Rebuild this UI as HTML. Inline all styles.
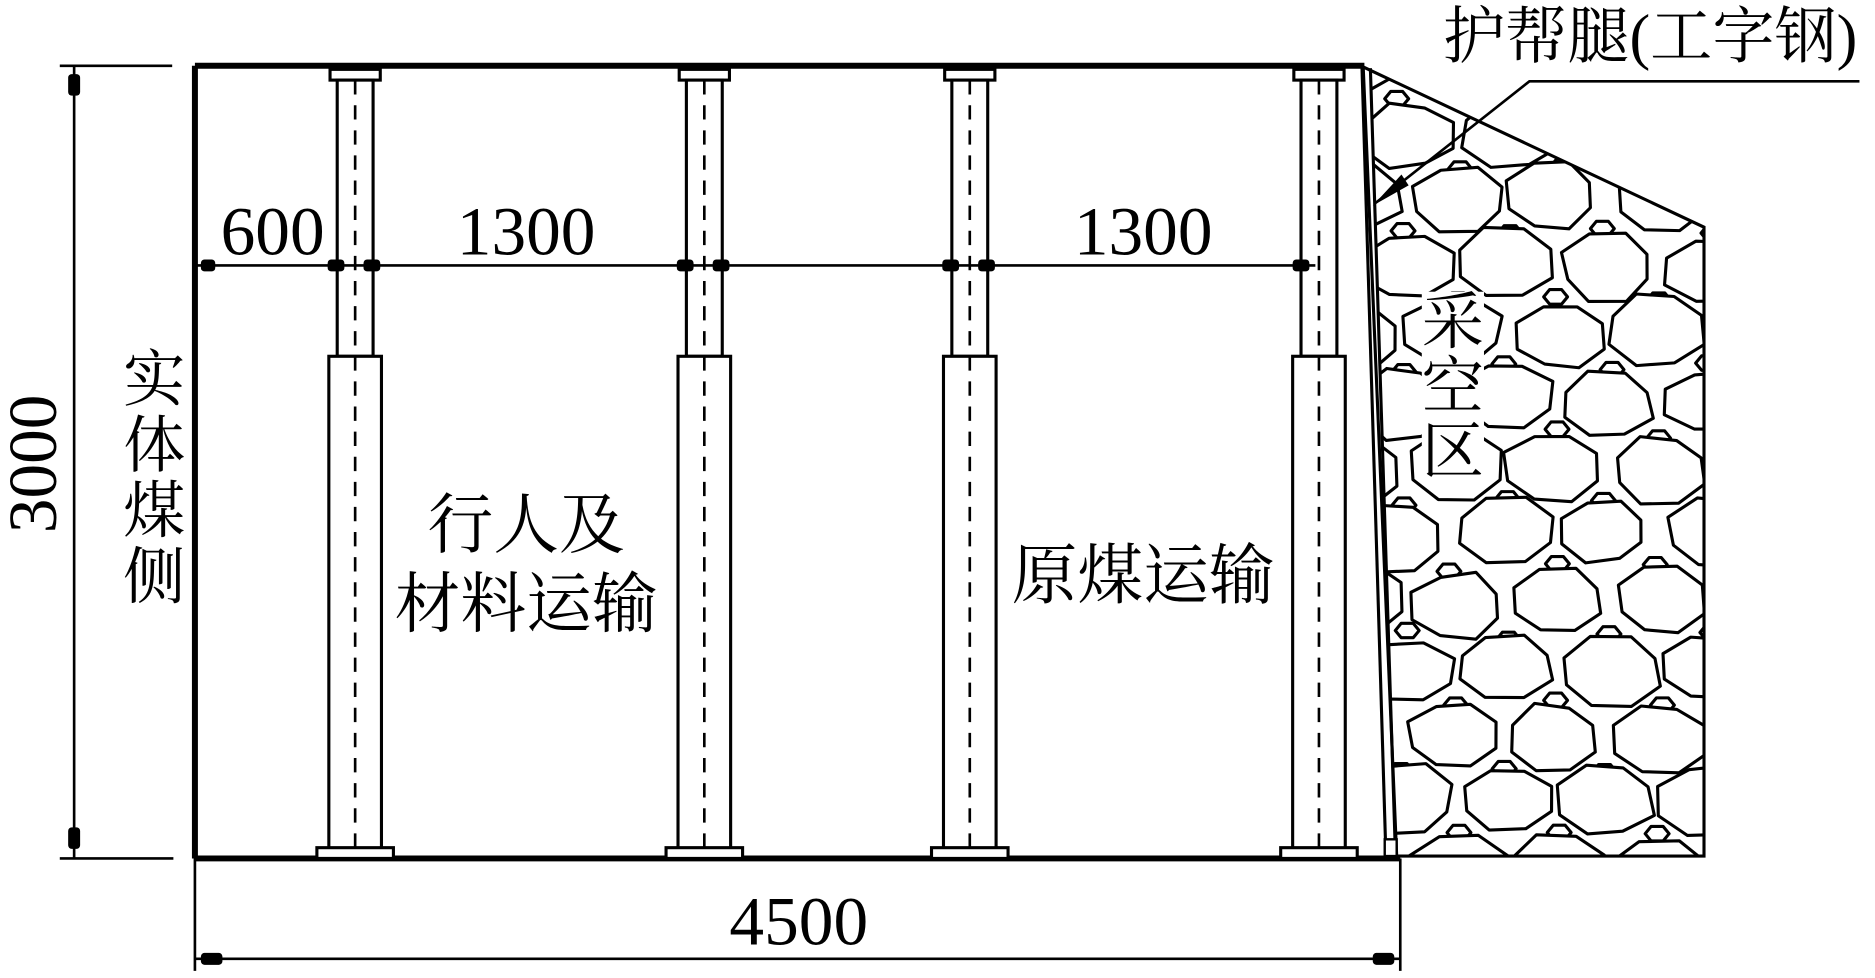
<!DOCTYPE html>
<html><head><meta charset="utf-8"><style>
html,body{margin:0;padding:0;background:#fff;}
svg{display:block;}
text{font-family:"Liberation Serif","Noto Serif CJK SC","Noto Sans CJK SC",serif;fill:#000;}
</style></head><body>
<svg id="s" width="1875" height="978" viewBox="0 0 1568 818" preserveAspectRatio="none" xmlns="http://www.w3.org/2000/svg">
<defs>
<clipPath id="gob"><polygon points="1146,58 1425,190 1425,716 1168,716"/></clipPath>
</defs>
<rect width="1568" height="818" fill="#fff"/>
<g id="rocks" clip-path="url(#gob)" stroke="#000" stroke-width="2.6" fill="#fff" stroke-linejoin="round"></g>
<rect x="1189" y="244" width="52" height="160" fill="#fff"/>
<polygon points="1140,56 1425,190 1425,716 1168,716" fill="none" stroke="#000" stroke-width="2.6"/>
<line x1="1139" y1="57" x2="1159" y2="716" stroke="#000" stroke-width="2.6"/>
<line x1="1146" y1="57" x2="1167" y2="716" stroke="#000" stroke-width="2.6"/>
<rect x="1158" y="702" width="10" height="14" fill="#fff" stroke="#000" stroke-width="2"/>
<path d="M163,55 H1141 M163,55 V718 M163,718 H1171" stroke="#000" stroke-width="5" fill="none"/>
<g stroke="#000" stroke-width="2.6" fill="#fff" id="props"></g>
<g stroke="#000" stroke-width="2.2">
<line x1="165" y1="222" x2="1100" y2="222"/>
</g>
<g fill="#000">
<rect x="168" y="217" width="12" height="10" rx="3"/>
<rect x="274" y="217" width="14" height="10" rx="3"/>
<rect x="304" y="217" width="14" height="10" rx="3"/>
<rect x="566" y="217" width="14" height="10" rx="3"/>
<rect x="596" y="217" width="14" height="10" rx="3"/>
<rect x="788" y="217" width="14" height="10" rx="3"/>
<rect x="818" y="217" width="14" height="10" rx="3"/>
<rect x="1081" y="217" width="14" height="10" rx="3"/>
</g>
<g stroke="#000" stroke-width="2.2">
<line x1="50" y1="55" x2="144" y2="55"/>
<line x1="50" y1="718" x2="145" y2="718"/>
<line x1="62" y1="55" x2="62" y2="718"/>
<line x1="163" y1="718" x2="163" y2="812"/>
<line x1="1171" y1="718" x2="1171" y2="812"/>
<line x1="163" y1="802" x2="1171" y2="802"/>
</g>
<g fill="#000">
<rect x="57" y="62" width="10" height="18" rx="3"/>
<rect x="57" y="692" width="10" height="18" rx="3"/>
<rect x="168" y="797" width="18" height="10" rx="3"/>
<rect x="1148" y="797" width="18" height="10" rx="3"/>
</g>
<polyline points="1555,68 1279,68 1150,170" fill="none" stroke="#000" stroke-width="2.2"/>
<polygon points="1148,172 1172,146 1178,155" fill="#000"/>
<text x="228" y="213" font-size="58" text-anchor="middle">600</text>
<text x="440" y="213" font-size="58" text-anchor="middle">1300</text>
<text x="956" y="213" font-size="58" text-anchor="middle">1300</text>
<text x="668" y="790" font-size="58" text-anchor="middle">4500</text>
<text transform="translate(47,388) rotate(-90)" font-size="58" text-anchor="middle">3000</text>
<g font-size="52" text-anchor="middle">
<text x="129" y="335">实</text>
<text x="129" y="390">体</text>
<text x="129" y="445">煤</text>
<text x="129" y="500">侧</text>
<text x="1215" y="287">采</text>
<text x="1215" y="341">空</text>
<text x="1215" y="395">区</text>
</g>
<g font-size="55" text-anchor="middle">
<text x="440" y="458">行人及</text>
<text x="440" y="524">材料运输</text>
<text x="956" y="500">原煤运输</text>
</g>
<text x="1380" y="48" font-size="52" text-anchor="middle">护帮腿(工字钢)</text>
</svg>
<script>
(function(){
var NS="http://www.w3.org/2000/svg";
var props=document.getElementById("props");
var cs=[297,589,811,1103];
function el(t,a,p){var e=document.createElementNS(NS,t);for(var k in a)e.setAttribute(k,a[k]);(p||props).appendChild(e);return e;}
cs.forEach(function(c){
 el("rect",{x:c-21,y:58,width:42,height:9});
 el("rect",{x:c-15,y:67,width:30,height:231});
 el("rect",{x:c-22,y:298,width:44,height:412});
 el("rect",{x:c-32,y:709,width:64,height:9});
 el("line",{x1:c,y1:67,x2:c,y2:709,"stroke-dasharray":"12,9","stroke-width":"2.2"});
});
var g=document.getElementById("rocks");
var seed=11;function r(){seed=(seed*16807)%2147483647;return seed/2147483647;}
var row=0;
for(var y=55;y<770;y+=56){
 var off=(row%2)?43:0;row++;
 for(var x=1130+off;x<1460;x+=86){
  var cx=x+(r()-0.5)*10,cy=y+(r()-0.5)*8;
  var rx=38+r()*6, ry=27+r()*5;
  var pts=[];var n=8;
  for(var i=0;i<n;i++){var a=i/n*Math.PI*2+0.39;var k=0.88+r()*0.18;pts.push((cx+Math.cos(a)*rx*k).toFixed(1)+","+(cy+Math.sin(a)*ry*k).toFixed(1));}
  el("polygon",{points:pts.join(" ")},g);
  var sx=cx+43,sy=cy+28;var sp=[];
  for(var j=0;j<6;j++){var b=j/6*Math.PI*2;sp.push((sx+Math.cos(b)*10).toFixed(1)+","+(sy+Math.sin(b)*7).toFixed(1));}
  el("polygon",{points:sp.join(" ")},g);
 }
}
})();
</script>
</body></html>
